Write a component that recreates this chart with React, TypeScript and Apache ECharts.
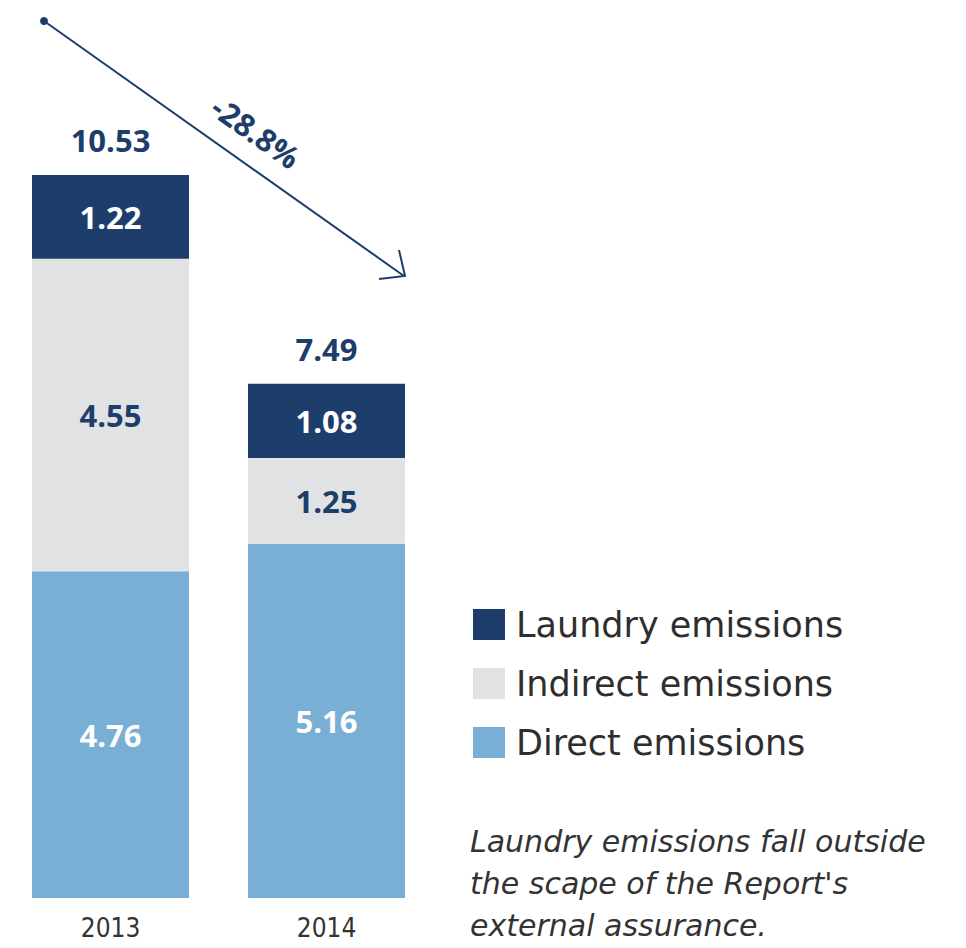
import React, { useEffect, useRef } from "react";
import * as echarts from "echarts";

const years = ["2013", "2014"];
const direct = [4.76, 5.16];
const indirect = [4.55, 1.25];
const laundry = [1.22, 1.08];
const totals = [10.53, 7.49];
const changeLabel = "-28.8%";
const noteText = "Laundry emissions fall outside\nthe scape of the Report's\nexternal assurance.";

const NAVY = "#1d3d6b";
const GREY = "#e1e2e4";
const BLUE = "#7aafd5";

export default function App() {
  const ref = useRef<HTMLDivElement>(null);
  useEffect(() => {
    if (!ref.current) return;
    const chart = echarts.init(ref.current, undefined, { renderer: "svg" });
    const numFont = "'Open Sans', 'DejaVu Sans', sans-serif";
    const insideLabel = (color: string) => ({
      show: true,
      position: "inside",
      color,
      fontFamily: numFont,
      fontWeight: 700,
      fontSize: 31,
      formatter: (p: any) => p.value.toFixed(2),
    });
    chart.setOption({
      animation: false,
      grid: { left: 2.5, width: 432, top: 5.4, bottom: 50, containLabel: false },
      legend: {
        orient: "vertical",
        left: 468,
        top: 602,
        icon: "rect",
        itemWidth: 32,
        itemHeight: 31,
        itemGap: 24,
        selectedMode: false,
        data: ["Laundry emissions", "Indirect emissions", "Direct emissions"],
        textStyle: {
          fontFamily: "'DejaVu Sans', sans-serif",
          fontSize: 35,
          lineHeight: 34,
          color: "#2e2e2e",
          padding: [0, 0, 0, 6],
        },
      },
      xAxis: {
        type: "category",
        data: years,
        axisLine: { show: false },
        axisTick: { show: false },
        axisLabel: {
          margin: 17,
          fontSize: 26,
          color: "#333",
          fontFamily: "'Liberation Sans Narrow', 'DejaVu Sans Condensed', sans-serif",
        },
      },
      yAxis: { type: "value", min: 0, max: 13, show: false },
      series: [
        {
          name: "Direct emissions",
          type: "bar",
          stack: "e",
          barWidth: 157,
          data: direct,
          itemStyle: { color: BLUE },
          label: insideLabel("#ffffff"),
        },
        {
          name: "Indirect emissions",
          type: "bar",
          stack: "e",
          data: indirect,
          itemStyle: { color: GREY },
          label: insideLabel(NAVY),
        },
        {
          name: "Laundry emissions",
          type: "bar",
          stack: "e",
          data: laundry,
          itemStyle: { color: NAVY },
          label: insideLabel("#ffffff"),
        },
        {
          name: "Total",
          type: "line",
          data: totals,
          symbol: "circle",
          showSymbol: true,
          symbolSize: 1,
          itemStyle: { color: "rgba(0,0,0,0)" },
          lineStyle: { width: 0, color: "rgba(0,0,0,0)" },
          silent: true,
          label: {
            show: true,
            position: "top",
            distance: 19,
            color: NAVY,
            fontFamily: numFont,
            fontWeight: 700,
            fontSize: 31,
            formatter: (p: any) => p.value.toFixed(2),
          },
        },
      ],
      graphic: [
        { type: "circle", shape: { cx: 44, cy: 21, r: 4 }, style: { fill: NAVY } },
        {
          type: "line",
          shape: { x1: 44, y1: 21, x2: 404, y2: 276 },
          style: { stroke: NAVY, lineWidth: 2 },
        },
        {
          type: "polyline",
          shape: { points: [[379, 279], [405, 276], [399, 250]] },
          style: { stroke: NAVY, lineWidth: 2, fill: null },
        },
        {
          type: "text",
          x: 256,
          y: 132,
          rotation: (-35.3 * Math.PI) / 180,
          style: {
            text: changeLabel,
            fill: NAVY,
            font: "700 31px 'Open Sans', 'DejaVu Sans', sans-serif",
            align: "center",
            verticalAlign: "middle",
          },
        },
        {
          type: "text",
          x: 470,
          y: 820,
          style: {
            text: noteText,
            fill: "#333",
            font: "italic 30px 'DejaVu Sans', sans-serif",
            lineHeight: 42,
            align: "left",
            verticalAlign: "top",
          },
        },
      ],
    });
    return () => chart.dispose();
  }, []);
  return (
    <div
      ref={ref}
      style={{ position: "fixed", left: 0, top: 0, width: 966, height: 948, background: "#fff" }}
    />
  );
}
